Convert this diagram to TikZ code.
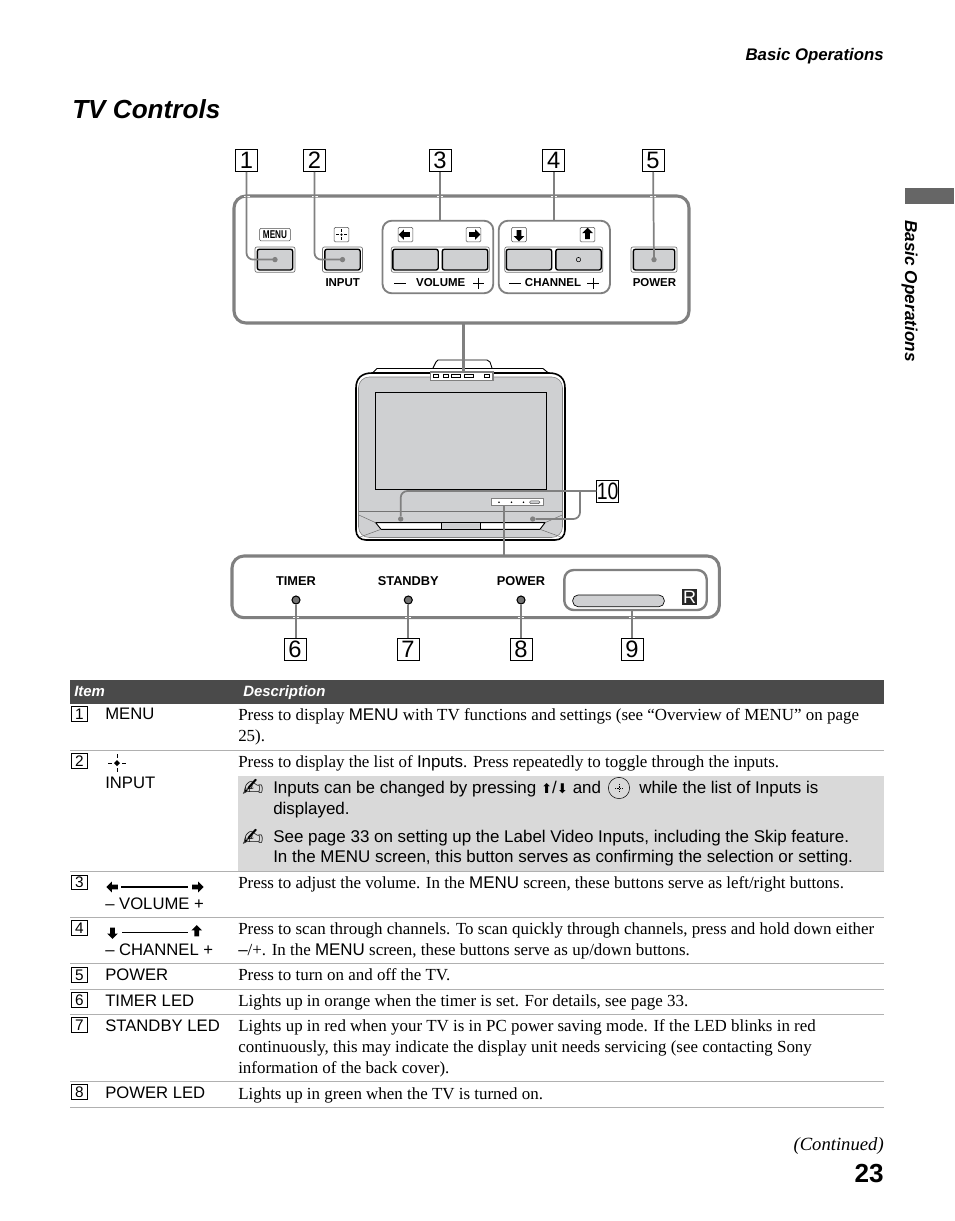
\documentclass[tikz,border=0pt]{standalone}
\usepackage{fontspec}
\setmainfont{Liberation Serif}
\setsansfont{Liberation Sans}
\newfontfamily\symfont{DejaVu Sans}
\definecolor{leadgray}{RGB}{128,128,128}
\definecolor{keygray}{RGB}{207,208,210}
\definecolor{notegray}{RGB}{217,217,217}
\definecolor{headdark}{RGB}{74,74,74}
\definecolor{rulegray}{RGB}{176,176,176}
\definecolor{tabgray}{RGB}{102,102,102}
\usetikzlibrary{positioning, shapes.arrows}
\newcommand{\fs}[1]{\fontsize{#1}{#1}\selectfont}

\begin{document}
\begin{tikzpicture}[
  x=0.75pt, y=-0.75pt,
  callout/.style={draw=black, line width=0.6pt, fill=white, minimum size=16.5pt, inner sep=0pt,
                  font=\sffamily\fs{17.8}},
  smallnum/.style={draw=black, line width=0.6pt, fill=white, minimum width=12pt, minimum height=11pt, inner sep=0pt,
                  font=\sffamily\fs{11.5}},
  leader/.style={draw=leadgray, line width=1.3pt, rounded corners=5pt},
  gap/.style={draw=white, line width=4.5pt},
  panel/.style={draw=leadgray, line width=2.3pt, rounded corners=9pt},
  group/.style={draw=leadgray, line width=1.4pt, rounded corners=7pt},
  tray/.style={draw=black!55, fill=white, line width=0.5pt, rounded corners=1.5pt, inner sep=0pt},
  key/.style={draw=black, fill=keygray, line width=1pt, rounded corners=1.5pt, inner sep=0pt,
              minimum height=15.5pt},
  keydot/.style={circle, fill=leadgray, inner sep=0pt, minimum size=4pt},
  keylabel/.style={font=\sffamily\bfseries\fs{8.6}, inner sep=0pt},
  ledlabel/.style={font=\sffamily\bfseries\fs{9.6}, inner sep=0pt},
  iconbox/.style={draw=black!70, line width=0.4pt, rounded corners=1pt, minimum size=11pt, inner sep=0pt},
  pointer/.style={single arrow, fill=black, inner sep=1pt, minimum height=8.5pt, minimum width=8pt,
                  single arrow head extend=1.5pt, single arrow head indent=0pt},
  led/.style={circle, draw=black, fill=black!55, line width=0.8pt, inner sep=0pt, minimum size=6pt},
  itemtext/.style={font=\sffamily\fs{12.5}, anchor=base west, inner sep=0pt},
  desc/.style={font=\fontsize{12.7}{15.75}\selectfont, anchor=north west, inner sep=0pt, align=left},
  notetext/.style={font=\sffamily\fontsize{12.72}{15.2}\selectfont, anchor=north west, inner sep=0pt, align=left},
  pencil/.style={font=\symfont\fs{19}, inner sep=0pt},
  rowline/.style={draw=rulegray, line width=0.6pt},
]
  \useasboundingbox (0,0) rectangle (954,1221);

  % page furniture
  \node[anchor=base east, inner sep=0pt, font=\sffamily\bfseries\itshape\fs{12.6}] (running) at (884,60) {Basic Operations};
  \node[anchor=base west, inner sep=0pt, font=\sffamily\bfseries\itshape\fs{19.6}] (title) at (72,118) {TV Controls};
  \fill[tabgray] (905,188) rectangle (954,204);
  \node[rotate=-90, anchor=base west, inner sep=0pt, font=\sffamily\itshape\bfseries\fs{12.9}] (side) at (905,220) {Basic Operations};

  % button panel
  \draw[panel] (234,196) rectangle (689,323);
  \draw[gap] (247,196) -- +(0,1) (314.5,196) -- +(0,1) (440,196) -- +(0,1) (553.7,196) -- +(0,1) (653,196) -- +(0,1);
  \draw[group] (382.5,220.7) rectangle (493.3,293.3);
  \draw[group] (498.7,220.7) rectangle (610,293.3);
  \coordinate (voltop) at (440,220.7);
  \coordinate (chantop) at (553.7,220.7);

  \node[tray, minimum width=30pt, minimum height=19pt] at (275,259.6) {};
  \node[key, minimum width=26.5pt] (btnmenu) at (275,259.6) {};
  \node[tray, minimum width=30pt, minimum height=19pt] at (342.5,259.6) {};
  \node[key, minimum width=26.5pt] (btninput) at (342.5,259.6) {};
  \node[tray, minimum width=73.5pt, minimum height=19pt] at (440.3,259.6) {};
  \node[key, minimum width=34pt] (btnvoldown) at (415.5,259.6) {};
  \node[key, minimum width=34pt] (btnvolup) at (465,259.6) {};
  \node[tray, minimum width=73.5pt, minimum height=19pt] at (553.8,259.6) {};
  \node[key, minimum width=34pt] (btnchdown) at (529,259.6) {};
  \node[key, minimum width=34pt] (btnchup) at (578.5,259.6) {};
  \node[tray, minimum width=34.5pt, minimum height=19pt] at (654,259.6) {};
  \node[key, minimum width=31pt] (btnpower) at (654,259.6) {};
  \draw[black, line width=0.4pt] (btnchup.center) circle (2.2);
  \node[keydot] at (btnmenu.center) {};
  \node[keydot] at (btninput.center) {};
  \node[keydot] at (btnpower.center) {};

  \node[iconbox, minimum width=23pt, minimum height=9.5pt, font=\sffamily\bfseries\fs{8.5}] (iconmenu) at (275,234.6) {\scalebox{0.72}[1]{MENU}};
  \node[iconbox] (iconinput) at (341.5,234.6) {};
  \draw[black, line width=0.4pt] (341.5,229) -- +(0,3) (341.5,237) -- +(0,3) (336,234.6) -- +(3,0) (344,234.6) -- +(3,0);
  \fill[black] (iconinput.center) circle (1.2);
  \node[iconbox] (iconleft) at (405.5,234.6) {};
  \node[pointer, shape border rotate=180] at (iconleft) {};
  \node[iconbox] (iconright) at (473.5,234.6) {};
  \node[pointer] at (iconright) {};
  \node[iconbox] (icondown) at (519,234.6) {};
  \node[pointer, shape border rotate=270] at (icondown) {};
  \node[iconbox] (iconup) at (587.5,234.6) {};
  \node[pointer, shape border rotate=90] at (iconup) {};

  \node[keylabel] (lblinput) at (342.7,282.5) {INPUT};
  \node[keylabel] (lblvol) at (440.7,282.5) {VOLUME};
  \node[keylabel] (lblchan) at (553,282.5) {CHANNEL};
  \node[keylabel] (lblpower) at (654.5,282.5) {POWER};
  \draw[black, line width=0.5pt] (394,283) -- (406,283) (473,283) -- (484,283) (478.5,277.5) -- (478.5,289);
  \draw[black, line width=0.5pt] (509,283) -- (521,283) (587,283) -- (599,283) (593,277.5) -- (593,289);

  \node[callout] (num1) at (246.5,160.5) {1};
  \node[callout] (num2) at (314.5,160.5) {2};
  \node[callout] (num3) at (440,160.5) {3};
  \node[callout] (num4) at (553.7,160.5) {4};
  \node[callout] (num5) at (653,160.5) {5};
  \draw[leader] (num1) |- (btnmenu.center);
  \draw[leader] (num2) |- (btninput.center);
  \draw[leader] (num3) -- (voltop);
  \draw[leader] (num4) -- (chantop);
  \draw[leader] (num5) -- (btnpower.center);

  % television
  \draw[black, fill=white, line width=0.7pt] (433,368) -- (436,362) -- (438,360) -- (487,360) -- (490,362) -- (492,368);
  \draw[black, fill=white, line width=0.7pt] (372,373.5) -- (377,368.5) -- (543,368.5) -- (549,373.5);
  \draw[black, fill=white, line width=1.2pt] (356,388) .. controls (356,378) and (362,373) .. (372,373) -- (549,373) .. controls (559,373) and (565,378) .. (565,388) -- (565,530) .. controls (565,536) and (561,540) .. (555,540) -- (366,540) .. controls (360,540) and (356,536) .. (356,530) -- cycle;
  \draw[black!50, fill=keygray, line width=0.4pt, rounded corners=8pt] (358.5,377) -- (562.5,377) -- (562.5,537.5) -- (358.5,537.5) -- cycle;
  \draw[black, line width=0.5pt, fill=keygray] (375.3,392.3) rectangle (546.7,489.3);
  \draw[black!55, line width=0.4pt] (358.8,511.5) -- (562.2,511.5);
  \draw[black, fill=white, line width=0.7pt] (375.7,522.7) -- (545,522.7) -- (540,529.3) -- (381,529.3) -- cycle;
  \draw[black, fill=keygray, line width=0.5pt] (441.7,522.7) rectangle (480,529.3);
  \draw[black!55, line width=0.4pt] (358.8,515) -- (375.7,522.7) (562.2,515) -- (545,522.7) (360,537) -- (381,529.3) (561,537) -- (540,529.3);
  \node[draw=leadgray, line width=1.1pt, fill=white, minimum width=47pt, minimum height=6.6pt, inner sep=0pt] (topstrip) at (461.7,376.2) {};
  \foreach \x/\w in {436/5,445.5/5,456/9,469/9,487/5} \draw[black, line width=0.4pt] (\x-\w/2,374.7) rectangle (\x+\w/2,377.7);
  \node[draw=leadgray, line width=1.1pt, fill=white, minimum width=39pt, minimum height=5.2pt, inner sep=0pt] (ledstrip) at (517.3,502.2) {};
  \foreach \x in {499,511.5,523.5} \fill[black] (\x,502.2) circle (0.8);
  \draw[black!70, fill=keygray, line width=0.3pt, rounded corners=1pt] (529.5,500.8) rectangle (540,503.6);
  \node[keydot] (spkleft) at (400.7,519) {};
  \node[keydot] (spkright) at (532.7,519) {};

  \node[callout] (num10) at (607.7,491) {\scalebox{0.82}[1]{10}};
  \coordinate (branch) at (580,491);
  \draw[leader] (num10) -- (400.7,491) -- (spkleft);
  \draw[leader] (branch) -- (580,519) -- (spkright);
  \draw[panel] (232,556) rectangle (719.3,617.7);
  \draw[gap] (296,617) -- +(0,1) (408.3,617) -- +(0,1) (521,617) -- +(0,1) (632,617) -- +(0,1);
  \coordinate (lowertop) at (504.3,556);
  \coordinate (uppertop) at (463.5,323);
  \draw[leader, line width=2pt] (uppertop) -- (topstrip.north -| uppertop);
  \draw[leader] (ledstrip.south -| lowertop) -- (lowertop);

  % indicator panel
  \node[ledlabel] (lbltimer) at (296,581.5) {TIMER};
  \node[ledlabel] (lblstandby) at (408.3,581.5) {STANDBY};
  \node[ledlabel] (lblpwrled) at (521,581.5) {POWER};
  \draw[group, fill=white, line width=1.8pt] (564.3,570) rectangle (706.7,610);
  \draw[black, fill=keygray, line width=0.5pt, rounded corners=4pt] (572.7,595) rectangle (664.3,606.7);
  \node[fill=black!85, text=white, minimum width=11.5pt, minimum height=12pt, inner sep=0pt, font=\sffamily\fs{13.5}] (sensor) at (689.5,597) {R};
  \coordinate (grpbottom) at (632,610);

  \node[callout] (num6) at (295,649.7) {6};
  \node[callout] (num7) at (408,649.7) {7};
  \node[callout] (num8) at (521,649.7) {8};
  \node[callout] (num9) at (632,649.7) {9};
  \node[led] (ledtimer) at (296,600) {};
  \node[led] (ledstandby) at (408.3,600) {};
  \node[led] (ledpower) at (521,600) {};
  \draw[leader] (ledtimer) -- (ledtimer |- num6.north);
  \draw[leader] (ledstandby) -- (ledstandby |- num7.north);
  \draw[leader] (ledpower) -- (ledpower |- num8.north);
  \draw[leader] (grpbottom) -- (num9);

  % table
  \fill[headdark] (70,680) rectangle (884,704);
  \node[anchor=base west, inner sep=0pt, text=white, font=\sffamily\bfseries\itshape\fs{11.2}] (headitem) at (74,696) {Item};
  \node[anchor=base west, inner sep=0pt, text=white, font=\sffamily\bfseries\itshape\fs{11.2}] (headdesc) at (243,696) {Description};
  \fill[notegray] (238,776) rectangle (884,871);
  \foreach \y in {750,871,917,963,989,1014,1081,1107} \draw[rowline] (70,\y) -- (884,\y);

  \node[smallnum] (row1) at (79.5,714) {1};
  \node[smallnum] (row2) at (79.5,761) {2};
  \node[smallnum] (row3) at (79.5,882.5) {3};
  \node[smallnum] (row4) at (79.5,928) {4};
  \node[smallnum] (row5) at (79.5,975) {5};
  \node[smallnum] (row6) at (79.5,1000) {6};
  \node[smallnum] (row7) at (79.5,1025) {7};
  \node[smallnum] (row8) at (79.5,1092) {8};

  \node[itemtext] (itmenu) at (105,719.5) {MENU};
  \node[itemtext] (itinput) at (105,788) {INPUT};
  \node[itemtext] (itvol) at (105,909) {-- VOLUME +};
  \node[itemtext] (itchan) at (105,955) {-- CHANNEL +};
  \node[itemtext] (itpower) at (105,980.5) {POWER};
  \node[itemtext] (ittimer) at (105,1006) {TIMER LED};
  \node[itemtext] (itstandby) at (105,1031) {STANDBY LED};
  \node[itemtext] (itpwrled) at (105,1098) {POWER LED};

  % item glyphs
  \draw[black, line width=0.4pt] (117,754) -- (117,757.5) (117,768) -- (117,771.5) (108,763) -- (112,763) (122,763) -- (126,763);
  \fill[black] (117,760) -- (120,763) -- (117,766) -- (114,763) -- cycle;
  \node[pointer, shape border rotate=180] (volleft) at (113.3,887) {};
  \node[pointer] (volright) at (196.7,887) {};
  \draw[black, line width=0.9pt] (volleft) ++(8,0) -- (188,887);
  \node[pointer, shape border rotate=270] (chdown) at (112.5,932) {};
  \node[pointer, shape border rotate=90] (chup) at (196.7,932) {};
  \draw[black, line width=0.5pt] (122,932) -- (188,932);

  % descriptions
  \node[desc] (d1) at (238,708) {Press to display {\sffamily MENU} with TV functions and settings (see “Overview of MENU” on page\\25).};
  \node[desc] (d2) at (238,755) {Press to display the list of {\sffamily Inputs}. Press repeatedly to toggle through the inputs.};
  \node[desc] (d3) at (238,876) {Press to adjust the volume. In the {\sffamily MENU} screen, these buttons serve as left/right buttons.};
  \node[desc] (d4) at (238,922) {Press to scan through channels. To scan quickly through channels, press and hold down either\\{\sffamily --}/+. In the {\sffamily MENU} screen, these buttons serve as up/down buttons.};
  \node[desc] (d5) at (238,968.5) {Press to turn on and off the TV.};
  \node[desc] (d6) at (238,994) {Lights up in orange when the timer is set. For details, see page 33.};
  \node[desc] (d7) at (238,1019) {Lights up in red when your TV is in PC power saving mode. If the LED blinks in red\\continuously, this may indicate the display unit needs servicing (see contacting Sony\\information of the back cover).};
  \node[desc] (d8) at (238,1087) {Lights up in green when the TV is turned on.};

  % notes
  \node[pencil] (pen1) at (253,788) {✍};
  \node[pencil] (pen2) at (253,838) {✍};
  \node[notetext] (n1a) at (273,780.5) {Inputs can be changed by pressing {\symfont\fs{10}⬆}/{\symfont\fs{10}⬇} and};
  \node[draw=black, line width=0.4pt, circle, minimum size=16pt, inner sep=0pt] (roundkey) at (619,788) {};
  \draw[black, line width=0.3pt, densely dotted] (roundkey.center) ++(0,-4) -- ++(0,8) (roundkey.center) ++(-4,0) -- ++(8,0);
  \node[notetext] (n1b) at (639,780.5) {while the list of Inputs is};
  \node[notetext] (n1c) at (273,801.5) {displayed.};
  \node[notetext] (n2) at (273,830) {See page 33 on setting up the Label Video Inputs, including the Skip feature.\\In the MENU screen, this button serves as confirming the selection or setting.};

  \node[anchor=base east, inner sep=0pt, font=\itshape\fs{14}] (continued) at (884,1150) {(Continued)};
  \node[anchor=base east, inner sep=0pt, font=\sffamily\bfseries\fs{19.6}] (pagenum) at (884,1182) {23};
\end{tikzpicture}
\end{document}
